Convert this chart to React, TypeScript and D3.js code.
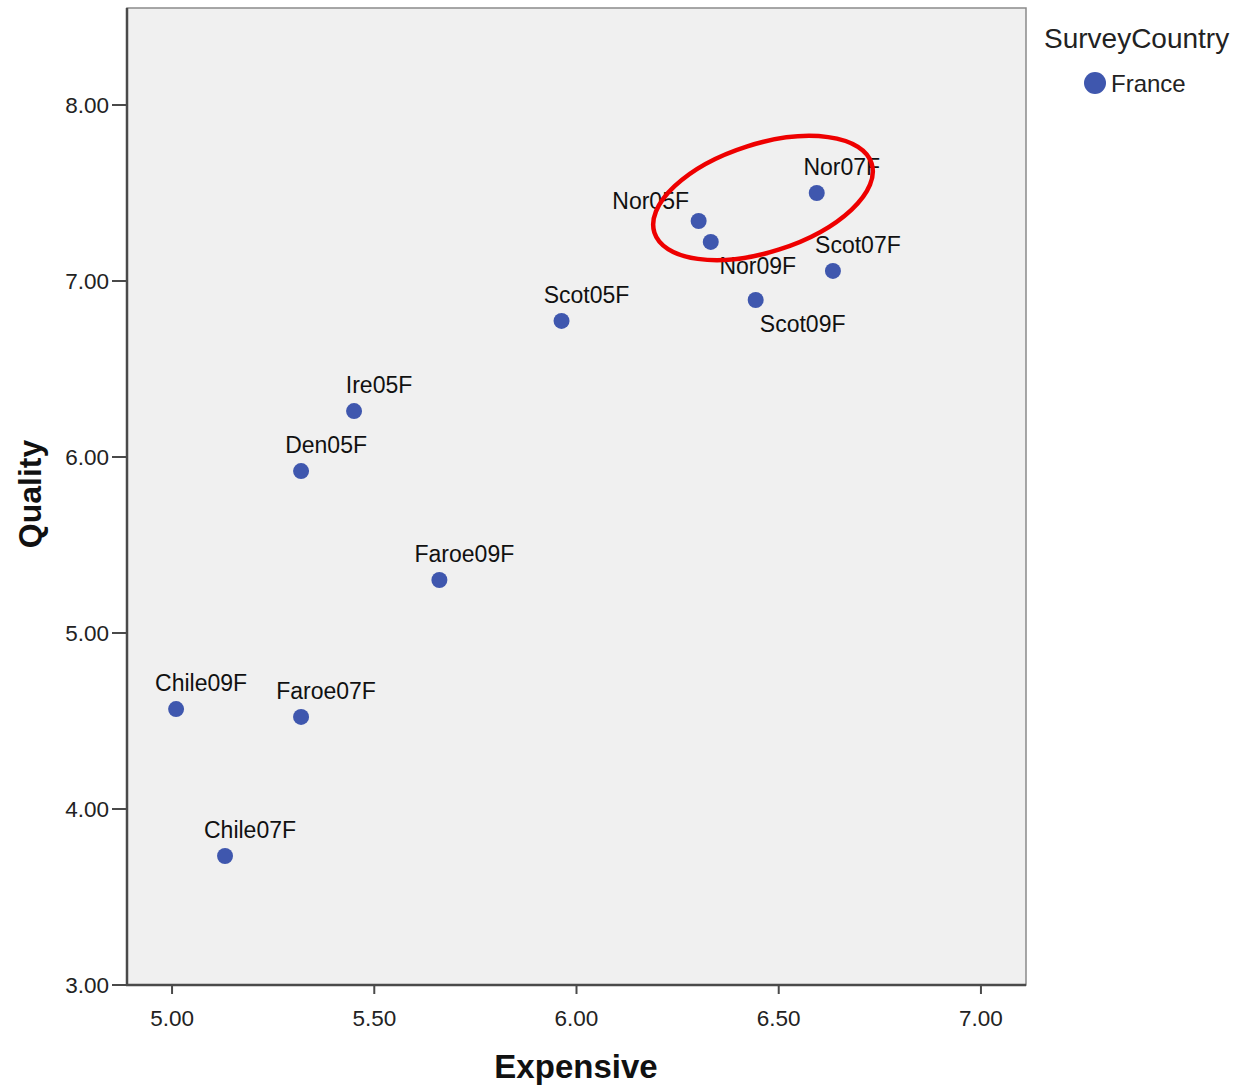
import React from "react";
import * as d3 from "d3";

const labels = ["Nor07F", "Nor05F", "Nor09F", "Scot07F", "Scot09F", "Scot05F", "Ire05F", "Den05F", "Faroe09F", "Chile09F", "Faroe07F", "Chile07F"];
const expensive = [6.594, 6.302, 6.332, 6.634, 6.443, 5.963, 5.45, 5.319, 5.661, 5.01, 5.319, 5.131];
const quality = [7.5, 7.341, 7.222, 7.057, 6.892, 6.773, 6.261, 5.92, 5.301, 4.568, 4.523, 3.733];
const xTicks = [5.0, 5.5, 6.0, 6.5, 7.0];
const yTicks = [3, 4, 5, 6, 7, 8];
const legendTitle = "SurveyCountry";
const legendItem = "France";
// label placement: "above" (default) or "below" / "left"
const labelPlace = ["above", "left", "below", "above", "below", "above", "above", "above", "above", "above", "above", "above"];

const W = 1234;
const H = 1086;
const L = 127, R = 1026, T = 8, B = 985;
const DOT = "#3f57ae";
const FONT = "'Liberation Sans', Arial, sans-serif";

export default function App() {
  const x = d3.scaleLinear().domain([5 - 45 / 404, 7 + 45 / 404]).range([L, R]);
  const y = d3.scaleLinear().domain([3, 3 + (B - T) / 176]).range([B, T]);
  const fmt = d3.format(".2f");

  const offsets: Record<string, [number, number]> = {
    above: [25, -18],
    left: [-48, -12],
    below: [47, 32],
  };

  return (
    <div style={{ position: "absolute", left: 0, top: 0 }}>
      <svg width={W} height={H} style={{ display: "block", background: "#fff" }} fontFamily={FONT}>
        <rect x={L} y={T} width={R - L} height={B - T} fill="#f0f0f0" stroke="#8a8a8a" strokeWidth={1.5} />
        {/* axes */}
        <line x1={L} x2={L} y1={T} y2={B + 1} stroke="#4a4a4a" strokeWidth={2.5} />
        <line x1={L - 1} x2={R} y1={B} y2={B} stroke="#4a4a4a" strokeWidth={2.5} />
        {yTicks.map((t) => (
          <g key={"y" + t}>
            <line x1={L - 15} x2={L} y1={y(t)} y2={y(t)} stroke="#4a4a4a" strokeWidth={2} />
            <text x={L - 18} y={y(t)} dy="0.35em" textAnchor="end" fontSize={22.5} fill="#222">
              {fmt(t)}
            </text>
          </g>
        ))}
        {xTicks.map((t) => (
          <g key={"x" + t}>
            <line x1={x(t)} x2={x(t)} y1={B} y2={B + 9} stroke="#4a4a4a" strokeWidth={2} />
            <text x={x(t)} y={B + 41} textAnchor="middle" fontSize={22.5} fill="#222">
              {fmt(t)}
            </text>
          </g>
        ))}
        <text x={576} y={1078} textAnchor="middle" fontSize={33} fontWeight="bold" fill="#111">
          Expensive
        </text>
        <text transform={`translate(41,494) rotate(-90)`} textAnchor="middle" fontSize={32} fontWeight="bold" fill="#111">
          Quality
        </text>
        {/* points */}
        {labels.map((lab, i) => {
          const cx = x(expensive[i]);
          const cy = y(quality[i]);
          const [dx, dy] = offsets[labelPlace[i]];
          return (
            <g key={lab}>
              <circle cx={cx} cy={cy} r={8} fill={DOT} />
              <text x={cx + dx} y={cy + dy} textAnchor="middle" fontSize={23} fill="#111">
                {lab}
              </text>
            </g>
          );
        })}
        {/* highlight ellipse */}
        <ellipse cx={763} cy={198} rx={114} ry={54} transform="rotate(-17.7 763 198)" fill="none" stroke="#ee0000" strokeWidth={4.5} />
        {/* legend */}
        <text x={1044} y={48} fontSize={28} fill="#222">
          {legendTitle}
        </text>
        <circle cx={1095} cy={83} r={11} fill={DOT} />
        <text x={1111} y={92} fontSize={24} fill="#222">
          {legendItem}
        </text>
      </svg>
    </div>
  );
}
